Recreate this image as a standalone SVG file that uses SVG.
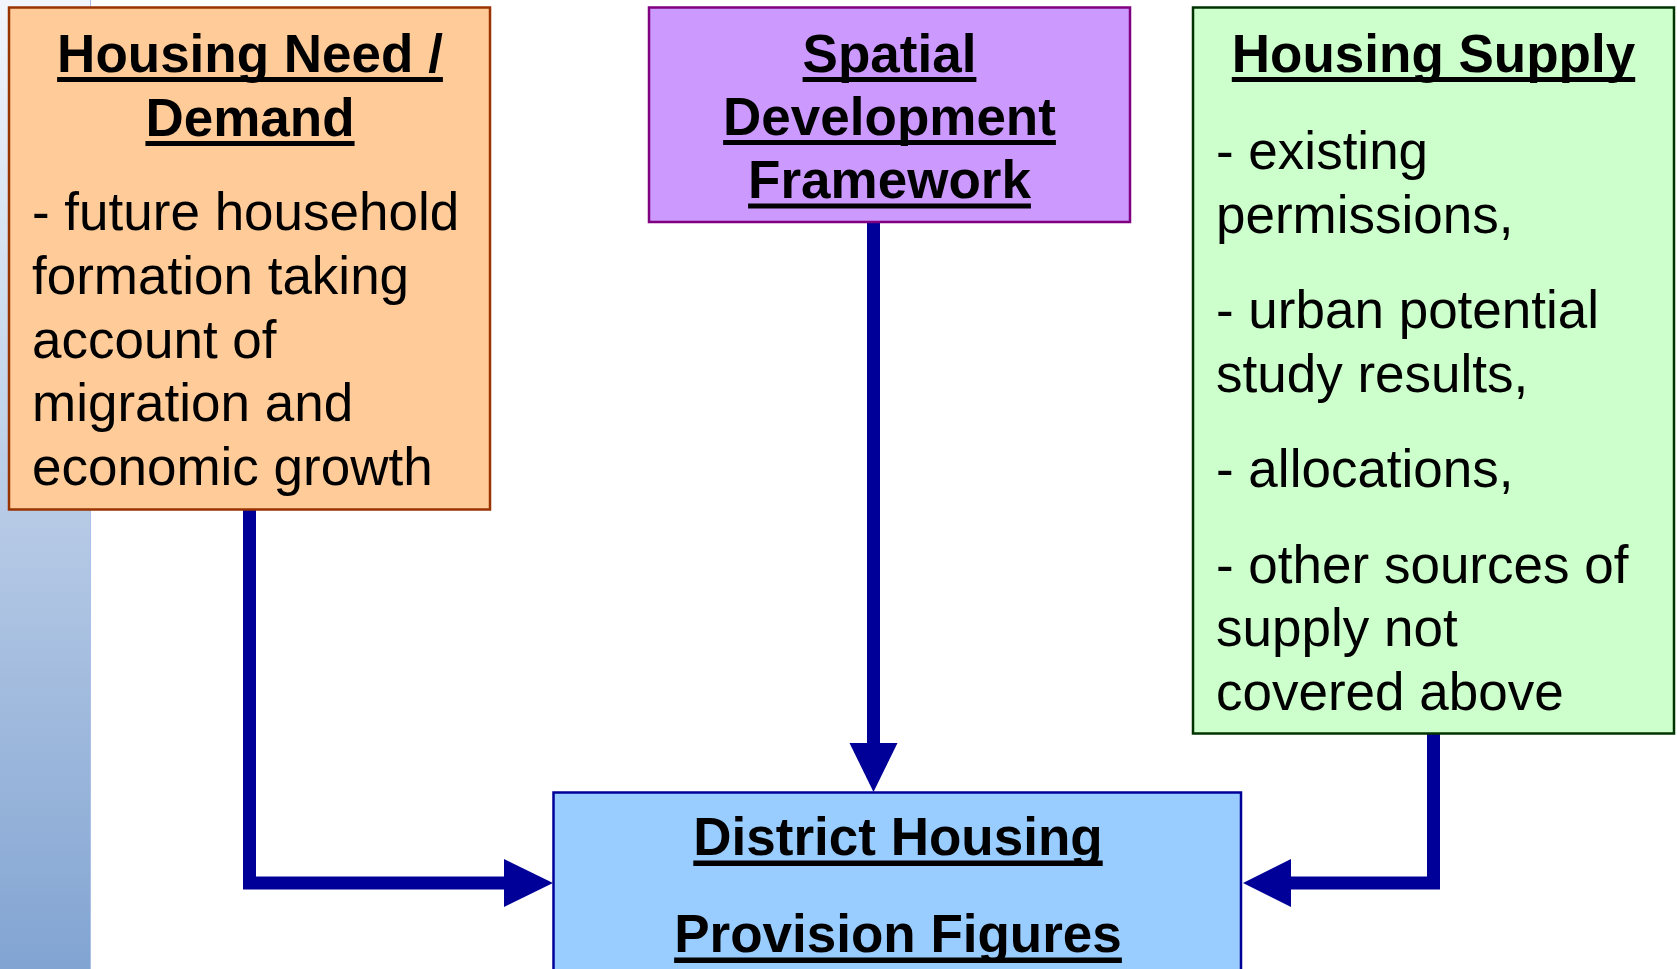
<svg xmlns="http://www.w3.org/2000/svg" width="1677" height="969" viewBox="0 0 1677 969">
  <defs>
    <linearGradient id="barGrad" x1="0" y1="0" x2="0" y2="1">
      <stop offset="0" stop-color="#f2f6fc"/>
      <stop offset="1" stop-color="#82a4d2"/>
    </linearGradient>
    <style>
      .t { font-family: "Liberation Sans", Arial, sans-serif; font-size: 53px; fill: #000; }
      .b { font-weight: bold; text-anchor: middle; }
      .ul { fill: #000; }
      .conn { fill: none; stroke: #000099; stroke-width: 13; stroke-linejoin: miter; stroke-linecap: butt; }
      .head { fill: #000099; }
    </style>
  </defs>

  <rect x="0" y="0" width="1677" height="969" fill="#ffffff"/>
  <rect x="0" y="0" width="91" height="969" fill="url(#barGrad)"/>
  <line x1="90.5" y1="0" x2="90.5" y2="969" stroke="#a9c1e6" stroke-width="1"/>

  <g id="connectors">
    <polyline class="conn" points="249.5,509 249.5,883 506,883"/>
    <polygon class="head" points="504,859 553,883 504,907"/>
    <line class="conn" x1="873.5" y1="222" x2="873.5" y2="745"/>
    <polygon class="head" points="849.5,743 897.5,743 873.5,792"/>
    <polyline class="conn" points="1433.5,733 1433.5,883 1289,883"/>
    <polygon class="head" points="1291,859 1243,883 1291,907"/>
  </g>

  <g id="housing-need">
    <rect x="9" y="7.5" width="481" height="502" fill="#ffcc99" stroke="#993300" stroke-width="2.5"/>
    <text class="t b" x="250" y="72">Housing Need /</text>
    <rect class="ul" x="57.1" y="77" width="385.8" height="5"/>
    <text class="t b" x="250" y="136">Demand</text>
    <rect class="ul" x="145.45" y="141" width="209.1" height="5"/>
    <text class="t" x="32" y="230">- future household</text>
    <text class="t" x="32" y="293.75">formation taking</text>
    <text class="t" x="32" y="357.5">account of</text>
    <text class="t" x="32" y="421.25">migration and</text>
    <text class="t" x="32" y="485">economic growth</text>
  </g>

  <g id="spatial">
    <rect x="649" y="7.5" width="481" height="214.5" fill="#cc99ff" stroke="#800080" stroke-width="2.5"/>
    <text class="t b" x="889.5" y="72">Spatial</text>
    <rect class="ul" x="802.6" y="77" width="173.8" height="5"/>
    <text class="t b" x="889.5" y="135">Development</text>
    <rect class="ul" x="723.1" y="140" width="332.8" height="5"/>
    <text class="t b" x="889.5" y="198">Framework</text>
    <rect class="ul" x="748.1" y="203.5" width="282.8" height="5"/>
  </g>

  <g id="housing-supply">
    <rect x="1193" y="7.5" width="481" height="726" fill="#ccffcc" stroke="#003300" stroke-width="2.5"/>
    <text class="t b" x="1433.5" y="72">Housing Supply</text>
    <rect class="ul" x="1231.8" y="77" width="403.4" height="5"/>
    <text class="t" x="1216" y="169">- existing</text>
    <text class="t" x="1216" y="232.5">permissions,</text>
    <text class="t" x="1216" y="328">- urban potential</text>
    <text class="t" x="1216" y="391.5">study results,</text>
    <text class="t" x="1216" y="487">- allocations,</text>
    <text class="t" x="1216" y="582.5">- other sources of</text>
    <text class="t" x="1216" y="646">supply not</text>
    <text class="t" x="1216" y="709.5">covered above</text>
  </g>

  <g id="district">
    <rect x="553.5" y="792.5" width="687.5" height="200" fill="#99ccff" stroke="#000099" stroke-width="2.5"/>
    <text class="t b" x="898" y="855">District Housing</text>
    <rect class="ul" x="693.3" y="860.5" width="409.4" height="5.5"/>
    <text class="t b" x="898" y="952">Provision Figures</text>
    <rect class="ul" x="674.15" y="957.5" width="447.7" height="5.5"/>
  </g>
</svg>
